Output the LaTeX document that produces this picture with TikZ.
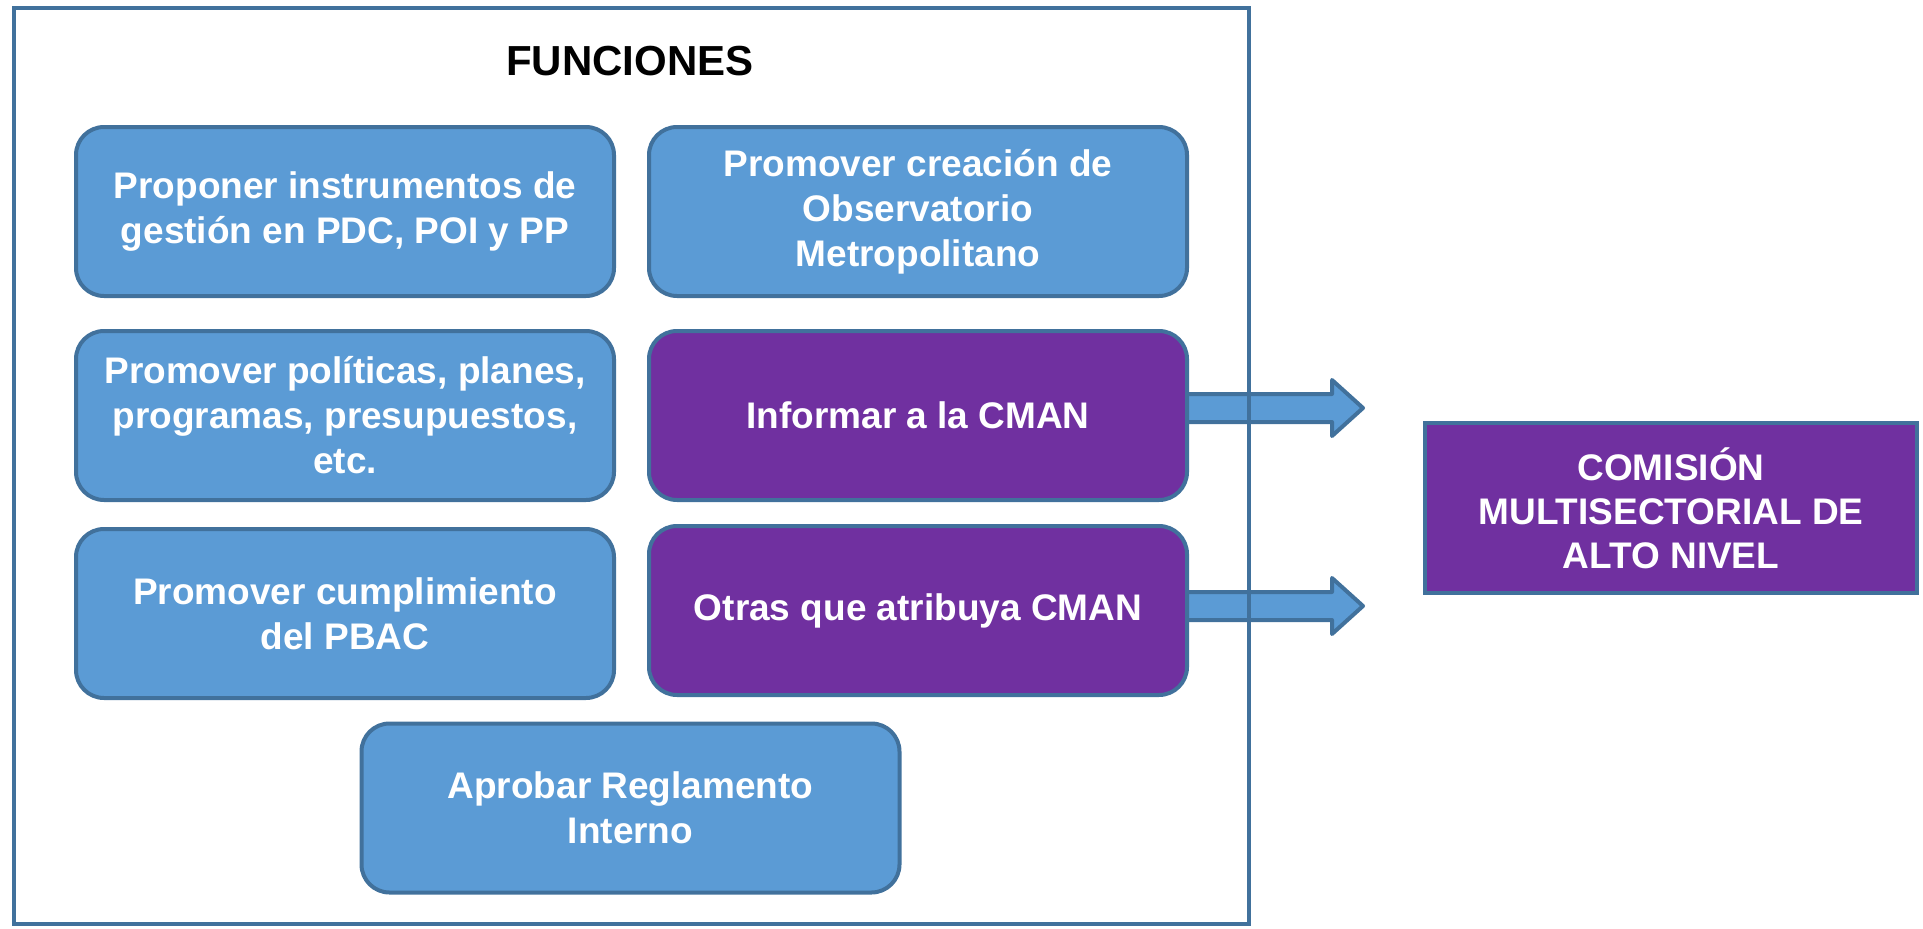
\documentclass[tikz,border=0pt]{standalone}
\usepackage{fontspec}
\setmainfont{Liberation Sans}
\usetikzlibrary{calc}
\pgfdeclarelayer{background}
\pgfsetlayers{background,main}
\definecolor{boxblue}{HTML}{5B9BD5}
\definecolor{edgeblue}{HTML}{41719C}
\definecolor{boxpurple}{HTML}{7030A0}
\tikzset{
  fbox/.style={draw=edgeblue, line width=4pt, rounded corners=28pt,
    minimum width=538pt, minimum height=169pt, align=center, text=white,
    font=\bfseries\fontsize{37}{45}\selectfont, inner sep=0pt},
  bluebox/.style={fbox, fill=boxblue},
  purplebox/.style={fbox, fill=boxpurple},
  rbox/.style={draw=edgeblue, line width=4pt, fill=boxpurple,
    minimum width=492pt, minimum height=170pt, align=center, text=white,
    font=\bfseries\fontsize{37}{44}\selectfont, inner sep=0pt},
  fatarrow/.style={draw=edgeblue, line width=4pt, fill=boxblue, line join=round},
  framebox/.style={draw=edgeblue, line width=4pt},
  titlefont/.style={font=\bfseries\fontsize{42}{50}\selectfont, text=black}
}
\begin{document}
\begin{tikzpicture}[x=1pt,y=-1pt]
\useasboundingbox (0,0) rectangle (1923,929);
\node[titlefont] (title) at (630,61) {FUNCIONES};
\node[bluebox] (b1) at (345,211.5) {Proponer instrumentos de\\gestión en PDC, POI y PP};
\node[bluebox] (b2) at (918,211.5) {Promover creación de\\Observatorio\\Metropolitano};
\node[bluebox] (b3) at (345,415.5) {Promover políticas, planes,\\programas, presupuestos,\\etc.};
\node[purplebox] (b4) at (918,415.5) {Informar a la CMAN};
\node[bluebox] (b5) at (345,613.5) {Promover cumplimiento\\del PBAC};
\node[purplebox] (b6) at (918,610.5) {Otras que atribuya CMAN};
\node[bluebox] (b7) at (630.5,808) {Aprobar Reglamento\\Interno};
\node[rbox] (cman) at (1671,508) {COMISIÓN\\MULTISECTORIAL DE\\ALTO NIVEL};
\begin{pgfonlayer}{background}
  \draw[fatarrow] ([xshift=-6pt,yshift=21.5pt]b4.east) -- ++(149,0) -- ++(0,-14)
     -- ++(31,28) -- ++(-31,28) -- ++(0,-14) -- ++(-149,0) -- cycle;
  \draw[fatarrow] ([xshift=-6pt,yshift=18.5pt]b6.east) -- ++(149,0) -- ++(0,-14)
     -- ++(31,28) -- ++(-31,28) -- ++(0,-14) -- ++(-149,0) -- cycle;
  \draw[framebox] (14,8) rectangle (1249,924);
\end{pgfonlayer}
\end{tikzpicture}
\end{document}
